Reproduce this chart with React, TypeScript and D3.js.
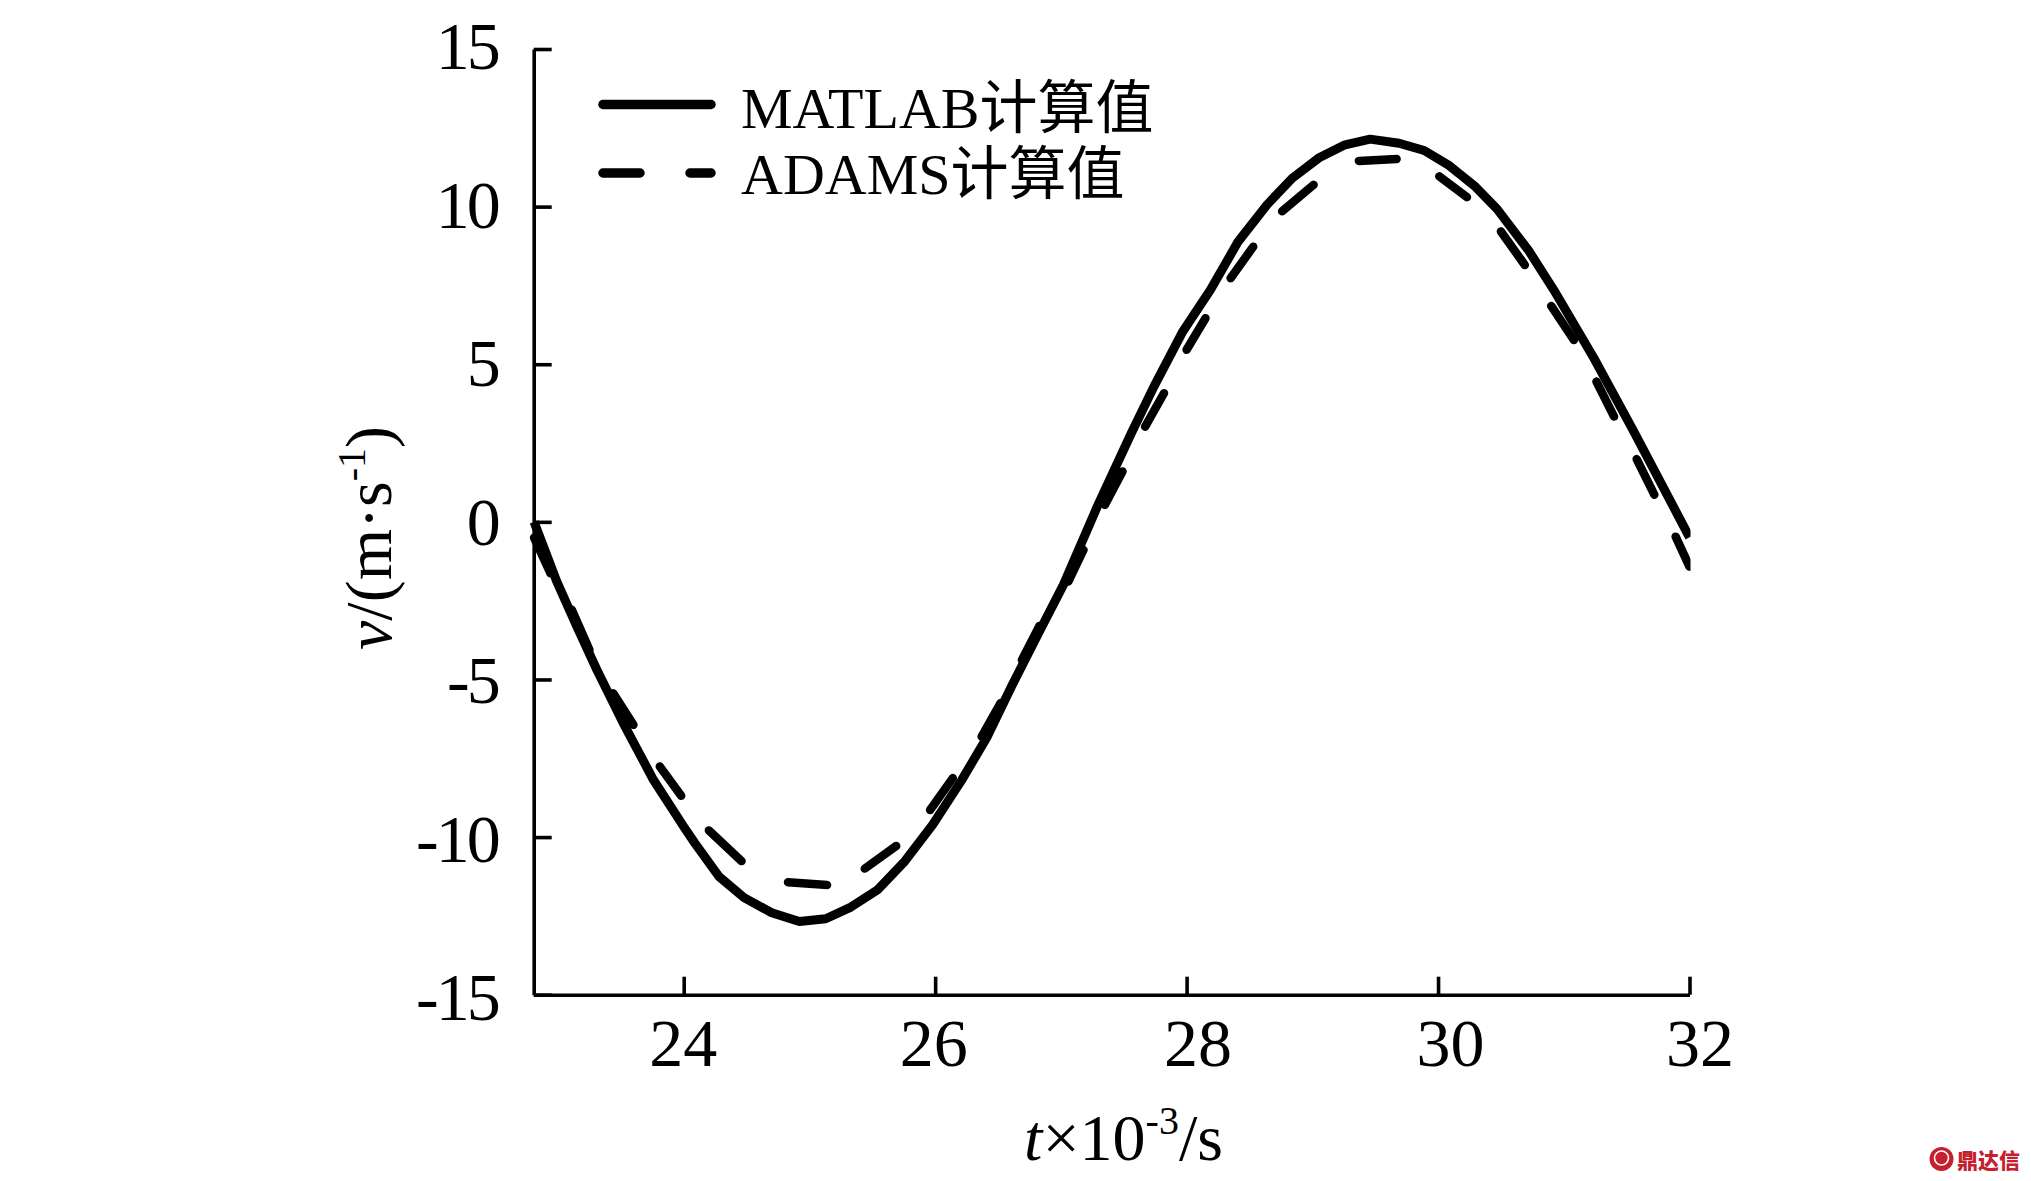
import { useEffect, useRef } from "react"
import * as d3 from "d3"

const matlabT = [22.81, 22.99, 23.15, 23.31, 23.52, 23.76, 24.0, 24.09, 24.28, 24.48, 24.7, 24.92, 25.13, 25.33, 25.54, 25.76, 25.98, 26.21, 26.41, 26.61, 26.82, 27.02, 27.29, 27.56, 27.74, 27.97, 28.19, 28.41, 28.64, 28.84, 29.05, 29.26, 29.46, 29.69, 29.89, 30.09, 30.3, 30.47, 30.72, 30.92, 31.24, 31.55, 31.79, 32.0]
const matlabV = [0, -1.89, -3.32, -4.7, -6.39, -8.19, -9.67, -10.2, -11.25, -11.92, -12.4, -12.68, -12.59, -12.22, -11.68, -10.76, -9.61, -8.2, -6.85, -5.2, -3.55, -2.0, 0.49, 2.81, 4.29, 6.04, 7.36, 8.89, 10.06, 10.9, 11.54, 11.96, 12.14, 12.01, 11.78, 11.3, 10.62, 9.92, 8.61, 7.36, 5.19, 2.92, 1.1, -0.49]

// ends of the printed dashes, two values per dash
const adamsT = [22.81, 22.94, 23.11, 23.25, 23.44, 23.6, 23.81, 23.98, 24.2, 24.46, 24.83, 25.14, 25.44, 25.69, 25.96, 26.14, 26.37, 26.52, 26.69, 26.83, 27.06, 27.18, 27.35, 27.49, 27.67, 27.82, 28.0, 28.15, 28.35, 28.53, 28.76, 29.01, 29.37, 29.67, 30.01, 30.23, 30.5, 30.69, 30.9, 31.08, 31.26, 31.4, 31.58, 31.72, 31.89, 32.0]
const adamsV = [-0.5, -1.63, -2.79, -4.06, -5.44, -6.44, -7.76, -8.69, -9.79, -10.76, -11.43, -11.52, -11.0, -10.28, -9.14, -8.13, -6.81, -5.75, -4.38, -3.3, -1.89, -0.89, 0.54, 1.6, 3.02, 4.08, 5.46, 6.46, 7.73, 8.73, 9.85, 10.69, 11.45, 11.51, 10.96, 10.3, 9.21, 8.15, 6.85, 5.77, 4.45, 3.34, 1.99, 0.86, -0.47, -1.42]

const xTicks = [24, 26, 28, 30, 32]
const yTicks = [-15, -10, -5, 0, 5, 10, 15]
const xLabelNudge = [-1, -2, 11, 12, 10]
const legendLabels = ["MATLAB计算值", "ADAMS计算值"]

const width = 2031
const height = 1181
const serif = "'Liberation Serif', 'Noto Sans CJK SC', serif"

export default function App() {
  const svgRef = useRef<SVGSVGElement>(null)

  useEffect(() => {
    if (!svgRef.current) return

    const svg = d3.select(svgRef.current)
    svg.selectAll("*").remove()

    const x = d3.scaleLinear().domain([22.807, 32]).range([533.7, 1689.5])
    const y = d3.scaleLinear().domain([-15, 15]).range([994.7, 49])
    // the printed y labels sit on a slightly wider spacing than the ticks
    const yLabel = d3.scaleLinear().domain([-15, 15]).range([1019.5, 68.5])

    svg.append("defs").append("clipPath").attr("id", "plot")
      .append("rect")
      .attr("x", 520).attr("y", 0)
      .attr("width", x(32) - 520 + 1).attr("height", height)

    // Axes
    const axisY = svg.append("g")
      .attr("transform", `translate(${x.range()[0]},0)`)
      .call(d3.axisLeft(y).tickValues(yTicks).tickSizeInner(-18).tickSizeOuter(0).tickFormat(d => String(d)))

    const axisX = svg.append("g")
      .attr("transform", `translate(0,${y.range()[0]})`)
      .call(d3.axisBottom(x).tickValues(xTicks).tickSizeInner(-18).tickSizeOuter(0).tickFormat(d => String(d)))

    svg.selectAll("g text")
      .attr("font-family", serif)
      .attr("font-size", 68)
      .attr("fill", "#000")

    axisY.selectAll("text")
      .attr("x", -36)
      .attr("dy", 0)
      .attr("y", d => yLabel(d as number) - y(d as number))
      .attr("text-anchor", "end")
      .attr("letter-spacing", -3)

    axisX.selectAll("text")
      .attr("y", 71)
      .attr("dy", 0)
      .attr("dx", (_, i) => xLabelNudge[i])
      .attr("text-anchor", "middle")

    svg.selectAll("path.domain, g.tick line")
      .attr("stroke", "#000")
      .attr("stroke-width", 3.6)

    // Curves
    const curve = (ts: number[], vs: number[]) =>
      d3.line<number>().x(d => x(d)).y((_, i) => y(vs[i]))(ts) as string

    const plot = svg.append("g").attr("clip-path", "url(#plot)")

    plot.append("path")
      .attr("d", curve(matlabT, matlabV))
      .attr("fill", "none")
      .attr("stroke", "#000")
      .attr("stroke-width", 9)
      .attr("stroke-linejoin", "round")

    // dash pattern follows the segments of the polyline: dash, gap, dash, ...
    const adamsSegments = d3.pairs(d3.range(adamsT.length)).map(([a, b]) =>
      Math.hypot(x(adamsT[b]) - x(adamsT[a]), y(adamsV[b]) - y(adamsV[a])))

    plot.append("path")
      .attr("d", curve(adamsT, adamsV))
      .attr("fill", "none")
      .attr("stroke", "#000")
      .attr("stroke-width", 8.5)
      .attr("stroke-linecap", "round")
      .attr("stroke-dasharray", adamsSegments.join(" "))

    // Legend
    const legendY = [104.5, 173]
    const legendBase = [128, 194.4]
    legendLabels.forEach((label, i) => {
      svg.append("line")
        .attr("x1", 603).attr("x2", 711)
        .attr("y1", legendY[i]).attr("y2", legendY[i])
        .attr("stroke", "#000")
        .attr("stroke-width", 9.5)
        .attr("stroke-linecap", "round")
        .attr("stroke-dasharray", i === 1 ? "37 50" : null)
      svg.append("text")
        .attr("x", 741).attr("y", legendBase[i])
        .attr("font-family", serif)
        .attr("font-size", 58)
        .attr("fill", "#000")
        .text(label)
    })

    // Axis titles
    const xTitle = svg.append("text")
      .attr("x", 1123.5).attr("y", 1160)
      .attr("text-anchor", "middle")
      .attr("font-family", serif)
      .attr("font-size", 66)
      .attr("fill", "#000")
    xTitle.append("tspan").attr("font-style", "italic").text("t")
    xTitle.append("tspan").text("×10")
    xTitle.append("tspan").attr("font-size", 40).attr("dy", -26).text("-3")
    xTitle.append("tspan").attr("dy", 26).text("/s")

    const yTitle = svg.append("text")
      .attr("transform", "translate(391,538) rotate(-90)")
      .attr("text-anchor", "middle")
      .attr("font-family", serif)
      .attr("font-size", 66)
      .attr("fill", "#000")
    yTitle.append("tspan").attr("font-style", "italic").text("v")
    yTitle.append("tspan").text("/(m·s")
    yTitle.append("tspan").attr("font-size", 40).attr("dy", -26).text("-1")
    yTitle.append("tspan").attr("dy", 26).text(")")

    // Site mark, bottom right corner
    const mark = svg.append("g").attr("fill", "#c4202e")
    mark.append("circle").attr("cx", 1941.5).attr("cy", 1159).attr("r", 12)
    mark.append("circle")
      .attr("cx", 1941.5).attr("cy", 1158).attr("r", 7)
      .attr("fill", "none")
      .attr("stroke", "#fff")
      .attr("stroke-width", 1.6)
    mark.append("text")
      .attr("x", 1957).attr("y", 1167.5)
      .attr("font-family", "'Noto Sans CJK SC'")
      .attr("font-weight", 900)
      .attr("font-size", 21)
      .text("鼎达信")
  }, [])

  return (
    <svg
      ref={svgRef}
      width={width}
      height={height}
      style={{ position: "absolute", left: 0, top: 0, display: "block", background: "#fff" }}
    />
  )
}
